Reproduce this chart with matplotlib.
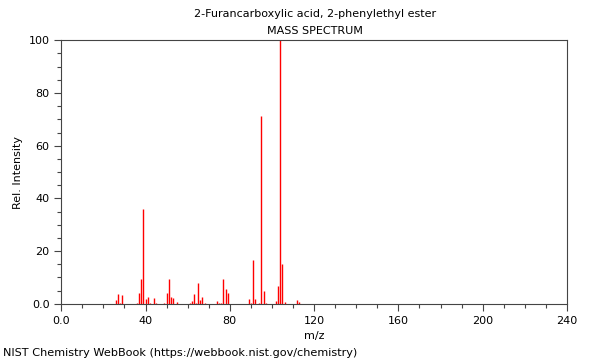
import matplotlib
matplotlib.use("Agg")
import matplotlib.pyplot as plt
from matplotlib.ticker import MultipleLocator

# m/z and relative intensity
mz = [26, 27, 28, 29, 36, 37, 38, 39, 40, 41, 42, 44, 45,
      49, 50, 51, 52, 53, 55,
      61, 62, 63, 64, 65, 66, 67, 68,
      74, 75, 76, 77, 78, 79,
      89, 90, 91, 92, 94, 95, 96, 97,
      102, 103, 104, 105, 106, 112, 113]
intensity = [1.4, 3.7, 0.3, 3.3, 0.3, 4.2, 9.4, 36.0, 1.8, 2.5, 0.3, 2.3, 0.3,
             0.3, 4.1, 9.3, 2.5, 2.2, 0.8,
             0.3, 0.9, 3.7, 0.5, 7.9, 1.4, 2.5, 0.3,
             0.9, 0.5, 0.5, 9.6, 5.8, 4.1,
             1.8, 0.3, 16.8, 1.7, 0.5, 71.3, 4.8, 0.5,
             1.0, 6.8, 100.0, 15.0, 0.8, 1.5, 0.8]

title = "2-Furancarboxylic acid, 2-phenylethyl ester"
subtitle = "MASS SPECTRUM"
footer = "NIST Chemistry WebBook (https://webbook.nist.gov/chemistry)"

plt.rcParams['font.family'] = ['DejaVu Sans']
plt.rcParams['font.size'] = 8

fig = plt.figure(figsize=(6, 3.6), dpi=100)
ax = fig.add_axes([0.102, 0.156, 0.843, 0.732])

ax.vlines(mz, 0, intensity, colors='#ff0000', linewidth=1.0)

ax.set_xlim(0, 240)
ax.set_ylim(0, 100)
ax.xaxis.set_minor_locator(MultipleLocator(10))
ax.yaxis.set_minor_locator(MultipleLocator(5))
ax.set_xticks([0, 40, 80, 120, 160, 200, 240])
ax.set_xticklabels(["0.0", "40", "80", "120", "160", "200", "240"])
ax.set_yticks([0, 20, 40, 60, 80, 100])
ax.set_yticklabels(["0.0", "20", "40", "60", "80", "100"])
ax.tick_params(which='major', length=5, width=0.8, labelsize=8, color='#444444')
ax.tick_params(which='minor', length=3, width=0.8, color='#444444')
for s in ax.spines.values():
    s.set_color('#444444')
    s.set_linewidth(0.8)

ax.set_xlabel("m/z", fontsize=8)
ax.set_ylabel("Rel. Intensity", fontsize=8)

fig.text(0.525, 0.962, title, ha='center', va='center', fontsize=8)
fig.text(0.525, 0.915, subtitle, ha='center', va='center', fontsize=8)
fig.text(0.005, 0.02, footer, ha='left', va='center', fontsize=8.15)

fig.savefig("out.png", dpi=100)
